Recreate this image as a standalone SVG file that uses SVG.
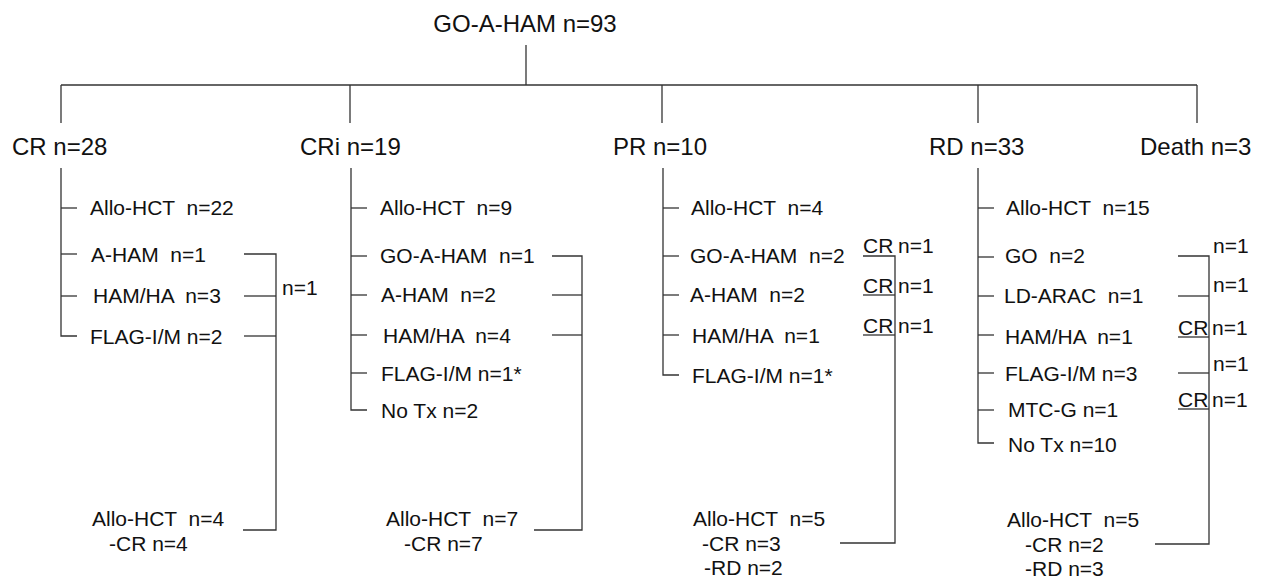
<svg xmlns="http://www.w3.org/2000/svg" width="1262" height="578" viewBox="0 0 1262 578">
<style>
text{font-family:"Liberation Sans",Arial,sans-serif;fill:#111;white-space:pre}
.lv{font-size:24px}
.sm{font-size:21px}
.c line,.c polyline{stroke:#333;stroke-width:1.3;fill:none}
</style>
<rect width="1262" height="578" fill="#fff"/>
<g class="c" id="connectors">
<line x1="526" y1="45" x2="526" y2="85"/>
<line x1="61" y1="85" x2="1197" y2="85"/>
<line x1="61" y1="85" x2="61" y2="123"/>
<line x1="350" y1="85" x2="350" y2="123"/>
<line x1="662" y1="85" x2="662" y2="123"/>
<line x1="978" y1="85" x2="978" y2="123"/>
<line x1="1197" y1="85" x2="1197" y2="123"/>
<!-- CR -->
<polyline points="61,168 61,336 77,336"/>
<line x1="61" y1="208" x2="77" y2="208"/>
<line x1="61" y1="254" x2="77" y2="254"/>
<line x1="61" y1="296" x2="77" y2="296"/>
<polyline points="244,254 276,254 276,530 243,530"/>
<line x1="244" y1="296" x2="276" y2="296"/>
<line x1="244" y1="336" x2="276" y2="336"/>
<!-- CRi -->
<polyline points="351,168 351,410 367,410"/>
<line x1="351" y1="208" x2="367" y2="208"/>
<line x1="351" y1="256" x2="367" y2="256"/>
<line x1="351" y1="295" x2="367" y2="295"/>
<line x1="351" y1="335" x2="367" y2="335"/>
<line x1="351" y1="373" x2="367" y2="373"/>
<polyline points="552,256 582,256 582,530 534,530"/>
<line x1="552" y1="295" x2="582" y2="295"/>
<line x1="552" y1="335" x2="582" y2="335"/>
<!-- PR -->
<polyline points="663,168 663,375 679,375"/>
<line x1="663" y1="208" x2="679" y2="208"/>
<line x1="663" y1="256" x2="679" y2="256"/>
<line x1="663" y1="295" x2="679" y2="295"/>
<line x1="663" y1="335" x2="679" y2="335"/>
<polyline points="863,256 895,256 895,543 840,543"/>
<line x1="863" y1="295" x2="895" y2="295"/>
<line x1="863" y1="335" x2="895" y2="335"/>
<!-- RD -->
<polyline points="978,168 978,443 994,443"/>
<line x1="978" y1="208" x2="994" y2="208"/>
<line x1="978" y1="257" x2="994" y2="257"/>
<line x1="978" y1="296" x2="994" y2="296"/>
<line x1="978" y1="335" x2="994" y2="335"/>
<line x1="978" y1="373" x2="994" y2="373"/>
<line x1="978" y1="410" x2="994" y2="410"/>
<polyline points="1178,256 1209,256 1209,544 1155,544"/>
<line x1="1178" y1="296" x2="1209" y2="296"/>
<line x1="1178" y1="337" x2="1209" y2="337"/>
<line x1="1178" y1="373" x2="1209" y2="373"/>
<line x1="1178" y1="409" x2="1209" y2="409"/>
</g>
<g id="root"><text class="lv" x="525" y="32" text-anchor="middle">GO-A-HAM n=93</text></g>
<g id="cr"><text class="lv" x="12" y="155">CR n=28</text></g>
<g id="cri"><text class="lv" x="300" y="155">CRi n=19</text></g>
<g id="pr"><text class="lv" x="613" y="155">PR n=10</text></g>
<g id="rd"><text class="lv" x="929" y="155">RD n=33</text></g>
<g id="death"><text class="lv" x="1140" y="155">Death n=3</text></g>
<g id="cr-items">
<text class="sm" x="90" y="215">Allo-HCT  n=22</text>
<text class="sm" x="91" y="262">A-HAM  n=1</text>
<text class="sm" x="93" y="303">HAM/HA  n=3</text>
<text class="sm" x="90" y="344">FLAG-I/M n=2</text>
<text class="sm" x="282" y="295">n=1</text>
</g>
<g id="cr-bottom">
<text class="sm" x="92" y="526">Allo-HCT  n=4</text>
<text class="sm" x="109" y="551">-CR n=4</text>
</g>
<g id="cri-items">
<text class="sm" x="380" y="215">Allo-HCT  n=9</text>
<text class="sm" x="380" y="263">GO-A-HAM  n=1</text>
<text class="sm" x="381" y="302">A-HAM  n=2</text>
<text class="sm" x="383" y="343">HAM/HA  n=4</text>
<text class="sm" x="381" y="381">FLAG-I/M n=1*</text>
<text class="sm" x="381" y="418">No Tx n=2</text>
</g>
<g id="cri-bottom">
<text class="sm" x="386" y="526">Allo-HCT  n=7</text>
<text class="sm" x="404" y="551">-CR n=7</text>
</g>
<g id="pr-items">
<text class="sm" x="691" y="215">Allo-HCT  n=4</text>
<text class="sm" x="690" y="263">GO-A-HAM  n=2</text>
<text class="sm" x="690" y="302">A-HAM  n=2</text>
<text class="sm" x="692" y="343">HAM/HA  n=1</text>
<text class="sm" x="692" y="383">FLAG-I/M n=1*</text>
<text class="sm" x="863" y="253">CR</text><text class="sm" x="898" y="253">n=1</text>
<text class="sm" x="863" y="293">CR</text><text class="sm" x="898" y="293">n=1</text>
<text class="sm" x="863" y="333">CR</text><text class="sm" x="898" y="333">n=1</text>
</g>
<g id="pr-bottom">
<text class="sm" x="693" y="526">Allo-HCT  n=5</text>
<text class="sm" x="702" y="551">-CR n=3</text>
<text class="sm" x="704" y="575">-RD n=2</text>
</g>
<g id="rd-items">
<text class="sm" x="1006" y="215">Allo-HCT  n=15</text>
<text class="sm" x="1005" y="263">GO  n=2</text>
<text class="sm" x="1004" y="303">LD-ARAC  n=1</text>
<text class="sm" x="1005" y="344">HAM/HA  n=1</text>
<text class="sm" x="1005" y="381">FLAG-I/M n=3</text>
<text class="sm" x="1008" y="417">MTC-G n=1</text>
<text class="sm" x="1008" y="452">No Tx n=10</text>
<text class="sm" x="1213" y="253">n=1</text>
<text class="sm" x="1213" y="292">n=1</text>
<text class="sm" x="1178" y="335">CR</text><text class="sm" x="1212" y="335">n=1</text>
<text class="sm" x="1213" y="371">n=1</text>
<text class="sm" x="1178" y="407">CR</text><text class="sm" x="1212" y="407">n=1</text>
</g>
<g id="rd-bottom">
<text class="sm" x="1007" y="527">Allo-HCT  n=5</text>
<text class="sm" x="1025" y="552">-CR n=2</text>
<text class="sm" x="1025" y="576">-RD n=3</text>
</g>
</svg>
